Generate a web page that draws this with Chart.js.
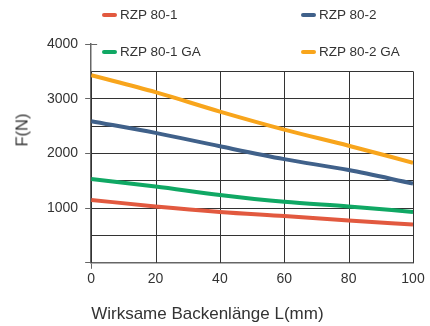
<!DOCTYPE html>
<html>
<head>
<meta charset="utf-8">
<script src="https://cdn.jsdelivr.net/npm/chart.js@4/dist/chart.umd.min.js"></script>
<style>
  body { margin: 0; background: #fff; }
  #wrap { position: relative; width: 430px; height: 326px; }
  .leg { position: absolute; font: 13.5px 'Liberation Sans', Arial, sans-serif; color: #333; display: flex; align-items: center; white-space: nowrap; }
  .leg i { display: inline-block; width: 15px; height: 4px; border-radius: 2px; margin-right: 3px; }
  #ytitle { position: absolute; left: 22px; top: 130px; transform: translate(-50%, -50%) rotate(-90deg); font: 16.5px 'Liberation Sans', Arial, sans-serif; color: #333; white-space: nowrap; }
</style>
</head>
<body>
<div id="wrap">
  <canvas id="chart" width="430" height="326"></canvas>
  <div id="ytitle">F(N)</div>
</div>
<script>
const lengths = [0, 20, 40, 60, 80, 100];
const rzp801 = [1150, 1030, 930, 855, 775, 700];
const rzp802 = [2590, 2375, 2130, 1895, 1695, 1450];
const rzp801ga = [1530, 1395, 1240, 1115, 1030, 930];
const rzp802ga = [3430, 3120, 2765, 2435, 2140, 1830];

const seriesNames = ['RZP 80-1', 'RZP 80-2', 'RZP 80-1 GA', 'RZP 80-2 GA'];
const seriesData = [rzp801, rzp802, rzp801ga, rzp802ga];
const colors = ['#e2593f', '#40618a', '#10a864', '#f8a51c'];

// legend (two rows, two columns)
const legPos = [[102, 7], [301, 7], [102, 44], [301, 44]];
const wrap = document.getElementById('wrap');
seriesNames.forEach((name, i) => {
  const d = document.createElement('div');
  d.className = 'leg';
  d.style.left = legPos[i][0] + 'px';
  d.style.top = legPos[i][1] + 'px';
  d.innerHTML = '<i style="background:' + colors[i] + '"></i>' + name;
  wrap.appendChild(d);
});

// vertical grid lines only up to 3500, plus the 4000 tick across the axis
const gridBox = {
  id: 'gridBox',
  beforeDatasetsDraw(chart) {
    const { ctx, scales: { x, y } } = chart;
    ctx.save();
    ctx.strokeStyle = '#333';
    ctx.lineWidth = 1;
    lengths.forEach(v => {
      const px = Math.round(x.getPixelForValue(v)) + 0.5;
      ctx.beginPath();
      ctx.moveTo(px, y.getPixelForValue(0));
      ctx.lineTo(px, y.getPixelForValue(3500));
      ctx.stroke();
    });
    ctx.strokeStyle = '#666';
    const ty = Math.round(y.getPixelForValue(4000)) + 0.5;
    ctx.beginPath();
    ctx.moveTo(x.left, ty);
    ctx.lineTo(x.left + 6, ty);
    ctx.stroke();
    ctx.restore();
  }
};

Chart.defaults.font.family = "'Liberation Sans', Arial, sans-serif";
Chart.defaults.color = '#333';

new Chart(document.getElementById('chart'), {
  type: 'line',
  data: {
    datasets: seriesNames.map((name, i) => ({
      label: name,
      data: lengths.map((l, j) => ({ x: l, y: seriesData[i][j] })),
      borderColor: colors[i],
      backgroundColor: colors[i],
      borderWidth: 4,
      pointRadius: 0,
      cubicInterpolationMode: 'monotone',
      fill: false,
    })),
  },
  options: {
    responsive: false,
    animation: false,
    layout: { padding: { left: 40, right: 17, top: 44, bottom: 0 } },
    plugins: { legend: { display: false }, tooltip: { enabled: false } },
    scales: {
      x: {
        type: 'linear',
        min: 0,
        max: 100,
        ticks: { stepSize: 20, padding: 2, font: { size: 14 }, color: '#333' },
        grid: {
          drawOnChartArea: false,
          tickLength: 6,
          tickColor: ctx => (ctx.tick && ctx.tick.value === 0 ? '#666' : 'rgba(0,0,0,0)'),
        },
        border: { color: '#666', width: 1.5 },
        title: {
          display: true,
          text: 'Wirksame Backenlänge L(mm)',
          align: 'start',
          font: { size: 17 },
          color: '#333',
          padding: { top: 15, bottom: 1 },
        },
      },
      y: {
        min: 0,
        max: 4000,
        ticks: {
          stepSize: 500,
          padding: 7,
          font: { size: 14 },
          color: '#333',
          callback: v => (v > 0 && v % 1000 === 0 ? v : ''),
        },
        grid: {
          tickLength: 6,
          color: ctx => (ctx.tick && ctx.tick.value === 4000 ? 'rgba(0,0,0,0)' : '#333'),
          tickColor: ctx => (ctx.tick && ctx.tick.value % 1000 === 0 ? '#666' : 'rgba(0,0,0,0)'),
        },
        border: { color: '#666', width: 1.5 },
      },
    },
  },
  plugins: [gridBox],
});
</script>
</body>
</html>
